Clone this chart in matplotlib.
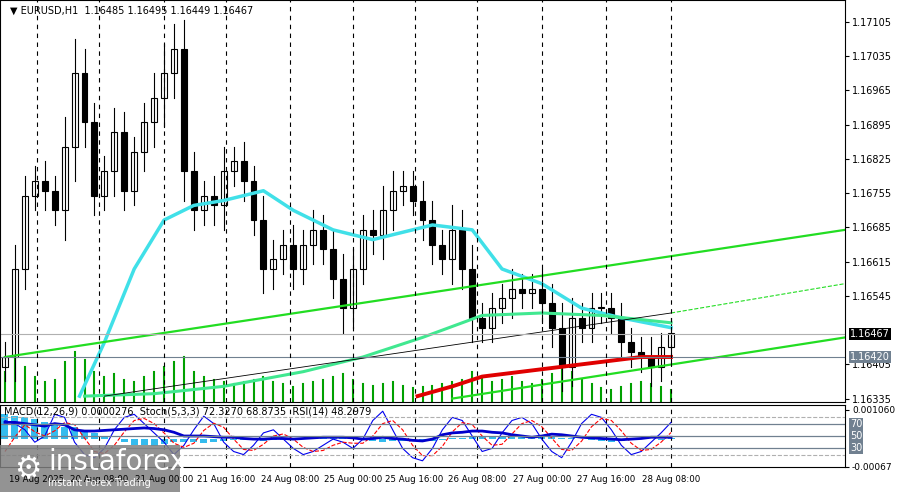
import numpy as np
import matplotlib.pyplot as plt
from matplotlib.patches import Rectangle

# hourly closes (sampled), EURUSD H1
closes = [1.1642, 1.1660, 1.1675, 1.1678, 1.1676, 1.1672, 1.1685, 1.1700, 1.1690, 1.1675,
          1.1680, 1.1688, 1.1676, 1.1684, 1.1690, 1.1695, 1.1700, 1.1705, 1.1680, 1.1672,
          1.1675, 1.1673, 1.1680, 1.1682, 1.1678, 1.1670, 1.1660, 1.1662, 1.1665, 1.1660,
          1.1665, 1.1668, 1.1664, 1.1658, 1.1652, 1.1660, 1.1668, 1.1667, 1.1672, 1.1676,
          1.1677, 1.1674, 1.1670, 1.1665, 1.1662, 1.1668, 1.1660, 1.1650, 1.1648, 1.1652,
          1.1654, 1.1656, 1.1655, 1.1656, 1.1653, 1.1648, 1.1640, 1.1650, 1.1648, 1.1652,
          1.1652, 1.1650, 1.1645, 1.1643, 1.1642, 1.1640, 1.1644, 1.1647]
opens = [1.1640] + closes[:-1]
wicks = [3, 5, 4, 3, 4, 3, 6, 7, 5, 4, 3, 5, 4, 3, 4, 5, 6, 5, 6, 4,
         3, 4, 5, 3, 4, 3, 5, 4, 3, 4, 3, 4, 3, 4, 5, 4, 3, 4, 5, 4,
         3, 3, 4, 4, 3, 5, 4, 5, 3, 3, 3, 4, 3, 3, 4, 4, 5, 4, 3, 3,
         3, 3, 3, 3, 3, 4, 3, 3]
volume = [30, 45, 35, 25, 20, 22, 40, 50, 42, 30, 25, 28, 22, 20, 25, 30, 35, 40, 45, 30,
          25, 22, 20, 18, 20, 22, 25, 20, 18, 15, 18, 20, 22, 25, 28, 22, 18, 16, 18, 20,
          16, 14, 15, 16, 18, 20, 22, 30, 25, 20, 22, 25, 20, 18, 22, 28, 35, 30, 22, 18,
          14, 12, 15, 18, 20, 18, 15, 12]

# moving averages as drawn (bar index, price)
ma_cyan_x = [7.5, 10, 13, 16, 19, 22, 26, 29, 33, 37, 43, 47, 50, 54, 58, 62, 67]
ma_cyan_y = [1.1634, 1.1645, 1.1660, 1.1670, 1.1673, 1.1674, 1.1676, 1.1672, 1.1668, 1.1666,
             1.1669, 1.1668, 1.1660, 1.1657, 1.1652, 1.1650, 1.1648]
ma_green_x = [8, 15, 22, 30, 36, 42, 48, 54, 60, 67]
ma_green_y = [1.1634, 1.16345, 1.1636, 1.1639, 1.1642, 1.1646, 1.16505, 1.1651, 1.16505, 1.1649]
ma_red_x = [41.5, 45, 48, 52, 56, 60, 64, 67]
ma_red_y = [1.1634, 1.1636, 1.1638, 1.1639, 1.1640, 1.1641, 1.1642, 1.1642]

# lower window: MACD histogram, Stoch, RSI (scaled 0..100)
macd = [80, 75, 70, 65, 55, 45, 40, 38, 30, 20, 10, 0, -10, -18, -20, -22, -15, -10, -8, -10,
        -12, -10, -6, -4, -2, -3, -5, -4, -2, 2, 4, 6, 8, 6, 4, 0, -4, -6, -8, -6,
        -5, -4, -6, -5, -2, 2, 4, 6, 6, 8, 10, 12, 10, 8, 6, 6, 4, 2, 0, -2,
        -6, -8, -6, -2, 2, 0, -2, 2]
stoch = [75, 70, 60, 40, 50, 85, 80, 40, 20, 15, 30, 60, 80, 85, 70, 55, 40, 20, 35, 60,
         82, 70, 40, 25, 20, 35, 55, 60, 45, 30, 20, 25, 35, 45, 40, 30, 45, 75, 90, 60,
         30, 15, 10, 30, 60, 80, 75, 50, 25, 30, 55, 75, 80, 70, 45, 25, 15, 40, 70, 85,
         80, 60, 35, 20, 25, 40, 55, 72]
rsi = [72, 72, 70, 68, 66, 70, 68, 60, 58, 58, 59, 60, 61, 62, 63, 62, 60, 56, 50, 50,
       50, 49, 48, 48, 46, 45, 45, 46, 46, 45, 46, 47, 48, 48, 48, 47, 45, 46, 48, 46,
       45, 43, 42, 45, 52, 55, 56, 58, 58, 56, 55, 52, 50, 48, 50, 53, 52, 50, 48, 47,
       46, 45, 44, 45, 46, 48, 48, 48]

date_pos = [3.2, 9.5, 16, 22.2, 28.7, 35, 41.2, 47.5, 54, 60.5, 67]
date_labels = ["19 Aug 2025", "20 Aug 08:00", "21 Aug 00:00", "21 Aug 16:00", "24 Aug 08:00",
               "25 Aug 00:00", "25 Aug 16:00", "26 Aug 08:00", "27 Aug 00:00", "27 Aug 16:00",
               "28 Aug 08:00"]
price_ticks = [1.17105, 1.17035, 1.16965, 1.16895, 1.16825, 1.16755, 1.16685, 1.16615,
               1.16545, 1.16405, 1.16335]


def main():
    fig = plt.figure(figsize=(8.97, 4.92), dpi=100)
    ax = fig.add_axes([0.0, 1 - 402 / 492, 845 / 897, 402 / 492])
    ax2 = fig.add_axes([0.0, 1 - 467 / 492, 845 / 897, 62 / 492])
    xmax = 84.5
    ymin, ymax = 1.16328, 1.17150

    # volume at the bottom of the price window
    vscale = (ymax - ymin) / 402
    for i, v in enumerate(volume):
        ax.plot([i, i], [ymin, ymin + v * vscale], color="#00a000", lw=1.5)

    # candles
    for i, (o, c, w) in enumerate(zip(opens, closes, wicks)):
        hi = max(o, c) + w * 0.0001
        lo = min(o, c) - w * 0.0001
        ax.plot([i, i], [lo, hi], color="black", lw=0.8)
        col = "white" if c >= o else "black"
        ax.add_patch(Rectangle((i - 0.3, min(o, c)), 0.6, max(abs(c - o), 0.00003),
                               facecolor=col, edgecolor="black", lw=0.8))

    ax.plot(ma_cyan_x, ma_cyan_y, color="#40e0e8", lw=2.5)
    ax.plot(ma_green_x, ma_green_y, color="#40e890", lw=2.2)
    ax.plot(ma_red_x, ma_red_y, color="#e00000", lw=2.8)

    # channel lines
    ax.plot([0, xmax], [1.16420, 1.16680], color="#22dd22", lw=1.6)
    ax.plot([45, xmax], [1.16335, 1.16460], color="#22dd22", lw=1.6)
    ax.plot([67, xmax], [1.16510, 1.16570], color="#22dd22", lw=0.8, ls="--")
    ax.plot([10, 67], [1.16340, 1.16510], color="black", lw=0.6)
    ax.axhline(1.16467, color="#b0b0b0", lw=0.8)
    ax.axhline(1.16420, color="#708090", lw=0.8)

    for a in (ax, ax2):
        for p in date_pos:
            a.axvline(p, color="black", lw=0.8, ls=(0, (4, 4)))
        a.set_xlim(-0.5, xmax)
        a.set_xticks([])
        a.yaxis.tick_right()
        a.tick_params(axis="y", labelsize=7, length=3, pad=2)
        for s in a.spines.values():
            s.set_linewidth(0.8)

    ax.set_ylim(ymin, ymax)
    ax.set_yticks(price_ticks)
    ax.set_yticklabels([f"{t:.5f}" for t in price_ticks])
    ax.text(xmax + 0.5, 1.16467, "1.16467", fontsize=7, color="white", va="center",
            ha="left", bbox=dict(boxstyle="square,pad=0.15", fc="black", ec="none"), clip_on=False)
    ax.text(xmax + 0.5, 1.16420, "1.16420", fontsize=7, color="white", va="center",
            ha="left", bbox=dict(boxstyle="square,pad=0.15", fc="#708090", ec="none"), clip_on=False)
    ax.text(0.012, 0.985, "\u25bc EURUSD,H1  1.16485 1.16495 1.16449 1.16467", transform=ax.transAxes,
            fontsize=7, va="top")

    # lower window
    xs = np.arange(len(rsi))
    ax2.bar(xs, [m * 0.5 for m in macd], bottom=45, width=0.7, color="#33bbee")
    sig = np.convolve(stoch, np.ones(3) / 3, mode="full")[:len(stoch)]
    ax2.plot(xs, stoch, color="#0000ee", lw=0.8)
    ax2.plot(xs, sig, color="red", lw=0.8, ls="--")
    ax2.plot(xs, rsi, color="#0000cc", lw=2)
    for lv in (70, 50, 30):
        ax2.axhline(lv, color="#708090", lw=0.9)
    for lv in (80, 20):
        ax2.axhline(lv, color="#b0b0b0", lw=0.8, ls="--")
    ax2.set_ylim(0, 100)
    ax2.set_yticks([92, 0])
    ax2.set_yticklabels(["0.001060", "-0.00067"], fontsize=6.5)
    for lv in (70, 50, 30):
        ax2.text(xmax + 0.5, lv, str(lv), fontsize=7, color="white", va="center",
                 bbox=dict(boxstyle="square,pad=0.1", fc="#708090", ec="none"), clip_on=False)
    ax2.text(0.005, 0.97, "MACD(12,26,9) 0.0000276  Stoch(5,3,3) 72.3270 68.8735  RSI(14) 48.2979",
             transform=ax2.transAxes, fontsize=7, va="top")

    for p, lab in zip(date_pos, date_labels):
        fig.text((p + 0.5) / (xmax + 0.5) * 845 / 897, 1 - 480 / 492, lab,
                 fontsize=6.2, ha="center", va="center")

    # watermark
    fig.patches.append(Rectangle((0, 0), 180 / 897, 47 / 492, transform=fig.transFigure,
                                 facecolor="#808080", alpha=0.85, edgecolor="none"))
    fig.text(48 / 897, 22 / 492, "instaforex", fontsize=20, color="white")
    fig.text(48 / 897, 6 / 492, "Instant Forex Trading", fontsize=7, color="white")
    fig.text(14 / 897, 14 / 492, "\u2699", fontsize=22, color="white")

    fig.savefig("out.png", dpi=100, facecolor="white")


if __name__ == "__main__":
    main()
